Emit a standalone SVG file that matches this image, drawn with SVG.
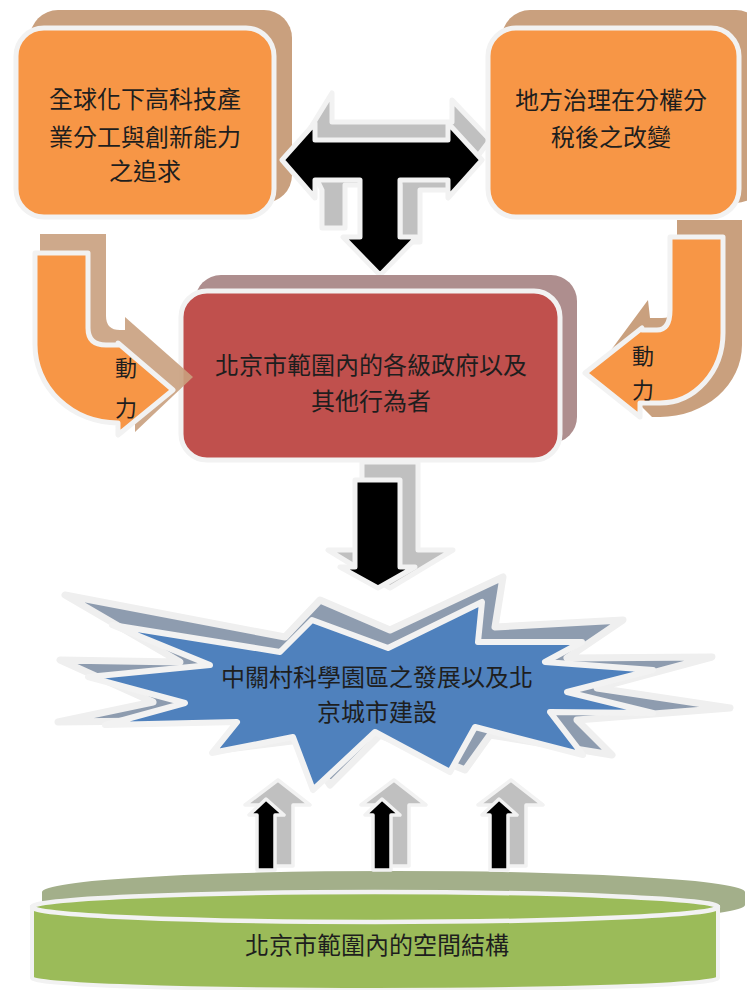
<svg xmlns="http://www.w3.org/2000/svg" width="747" height="990" viewBox="0 0 747 990">
<style>
text{font-family:"Noto Sans CJK TC","Noto Sans CJK SC",sans-serif;fill:#1e1e1e;text-anchor:middle;font-size:24px}
.sm{font-size:22px}
.halo{stroke:#f2f2f2;stroke-width:5;stroke-linejoin:round}
.thin{stroke:#f2f2f2;stroke-width:3.5;stroke-linejoin:round}
.orange{fill:#f79646}
.tan{fill:#c9a07e}
.gray{fill:#c0c0c0}
.blk{fill:#000}
</style>
<rect width="747" height="990" fill="#fff"/>

<g id="connectors">
  <g id="t-arrow-shadow" class="gray halo">
    <path d="M300,145 L332,93 L332,122 L452,122 L452,100 L490,140 L452,190 L420,190 L420,242 L400,242 L400,185 L345,185 L345,228 L322,228 L322,190 Z"/>
  </g>
</g>

<g id="box-left">
  <rect x="30" y="10" width="262" height="193" rx="28" class="tan"/>
  <rect x="16" y="28" width="258" height="189" rx="28" class="orange halo"/>
  <text x="145" y="108">全球化下高科技產</text>
  <text x="145" y="146">業分工與創新能力</text>
  <text x="145" y="180">之追求</text>
</g>

<g id="box-right">
  <rect x="502" y="10" width="262" height="193" rx="28" class="tan"/>
  <rect x="488" y="28" width="251" height="189" rx="28" class="orange halo"/>
  <text x="611" y="109">地方治理在分權分</text>
  <text x="611" y="146">稅後之改變</text>
</g>

<g id="t-arrow">
  <path class="blk halo" d="M282,160 L315,123 L315,140 L448,140 L448,123 L482,160 L448,198 L448,180 L400,180 L400,237 L417,237 L380,275 L343,237 L360,237 L360,180 L315,180 L315,198 Z"/>
</g>

<g id="box-center">
  <rect x="195" y="275" width="382" height="168" rx="26" fill="#ae8e8e"/>
  <rect x="181" y="291" width="379" height="169" rx="26" fill="#c0504d" class="halo"/>
  <text x="371" y="374">北京市範圍內的各級政府以及</text>
  <text x="371" y="410">其他行為者</text>
</g>

<g id="curved-left">
  <path class="tan" opacity="0.9" d="M40,234 L106,234 L106,316 Q106,330 120,330 L125,330 L125,317 L193,377 L135,432 L135,420 A95,90 0 0 1 40,330 Z"/>
  <path class="orange halo" d="M35,253 L88,253 L88,328 Q88,345 106,345 L118,345 L118,343 L173,390 L118,435 L118,423 A83,78 0 0 1 35,345 Z"/>
  <text class="sm" x="126" y="376">動</text>
  <text class="sm" x="126" y="416">力</text>
</g>

<g id="curved-right">
  <path class="tan" d="M677,220 L742,220 L742,345 A82,72 0 0 1 660,417 L652,417 L600,365 L648,300 L650,318 L662,318 Q677,318 677,300 Z"/>
  <path class="orange halo" d="M670,237 L723,237 L723,333 A63,70 0 0 1 660,403 L640,403 L640,417 L585,373 L642,328 L642,330 L657,330 Q670,330 670,310 Z"/>
  <text class="sm" x="643" y="364">動</text>
  <text class="sm" x="643" y="398">力</text>
</g>

<g id="down-arrow">
  <path class="gray halo" d="M362,462 L418,462 L418,550 L453,550 L390,588 L328,550 L362,550 Z"/>
  <path class="blk halo" d="M355,480 L400,480 L400,567 L415,567 L378,588 L340,567 L355,567 Z"/>
</g>

<g id="star">
  <polygon fill="#8e9caf" stroke="#efefef" stroke-width="7" stroke-linejoin="round" points="65,595 285,637 320,600 390,630 503,577 495,627 623,620 567,658 712,657 597,688 730,708 577,720 612,755 490,735 465,770 380,735 330,785 300,740 220,750 240,720 58,722 153,702 60,660 180,662"/>
  <polygon fill="#4f81bd" stroke="#f2f2f2" stroke-width="6" stroke-linejoin="round" points="112,625 280,652 312,620 388,648 482,602 478,642 582,642 545,662 653,670 567,692 653,713 550,712 583,755 475,727 450,772 375,732 313,790 293,737 212,753 237,722 105,725 185,703 88,677 210,665"/>
  <text x="377" y="686">中關村科學園區之發展以及北</text>
  <text x="377" y="721">京城市建設</text>
</g>

<g id="cylinder-shadow">
  <path fill="#a3af8a" d="M42,892 A351,21 0 0 1 745,892 L745,905 A351,21 0 0 1 42,905 Z"/>
</g>

<g id="up-arrows">
  <g id="up1">
    <path class="gray thin" d="M265,805 L245,805 L278,780 L310,805 L293,805 L293,866 L265,866 Z"/>
    <path class="blk thin" d="M257,870 L257,815 L249,815 L266,799 L284,815 L275,815 L275,870 Z"/>
  </g>
  <g id="up2" transform="translate(116,0)">
    <path class="gray thin" d="M265,805 L245,805 L278,780 L310,805 L293,805 L293,866 L265,866 Z"/>
    <path class="blk thin" d="M257,870 L257,815 L249,815 L266,799 L284,815 L275,815 L275,870 Z"/>
  </g>
  <g id="up3" transform="translate(233,0)">
    <path class="gray thin" d="M265,805 L245,805 L278,780 L310,805 L293,805 L293,866 L265,866 Z"/>
    <path class="blk thin" d="M257,870 L257,815 L249,815 L266,799 L284,815 L275,815 L275,870 Z"/>
  </g>
</g>

<g id="cylinder">
  <path fill="#9bbb59" stroke="#f2f2f2" stroke-width="4" d="M32,907 L32,978 A343,12 0 0 0 718,978 L718,907 Z"/>
  <ellipse cx="375" cy="907" rx="343" ry="15" fill="#9bbb59" stroke="#f2f2f2" stroke-width="4.5"/>
  <text x="377" y="954">北京市範圍內的空間結構</text>
</g>
</svg>
